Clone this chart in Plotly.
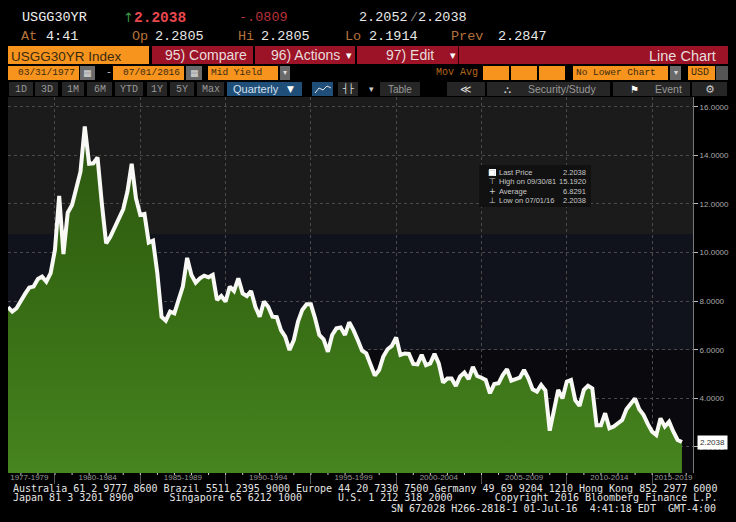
import pandas as pd
import plotly.graph_objects as go

yields = [7.75,7.57,7.71,8.05,8.30,8.56,8.60,8.91,9.01,8.80,9.15,10.11,12.33,9.94,11.64,11.96,12.69,13.33,15.19,13.65,
13.67,13.91,12.02,10.38,10.65,11.00,11.34,11.78,12.51,13.65,12.23,11.55,11.59,10.41,10.49,9.15,7.36,7.20,7.57,7.50,
8.05,8.60,9.78,9.08,8.76,8.94,9.05,8.98,9.08,8.05,8.21,7.98,8.60,8.42,8.94,8.32,8.21,8.42,7.77,7.36,
7.98,7.77,7.36,7.34,6.81,6.54,5.99,6.40,7.16,7.64,7.87,7.87,7.30,6.61,6.43,5.92,6.61,6.88,6.92,6.61,
7.13,6.81,6.40,5.96,5.85,5.44,4.94,5.17,5.72,6.02,6.16,6.51,5.79,5.85,5.83,5.42,5.40,5.79,5.37,5.44,
5.83,5.44,4.65,4.82,4.82,4.51,4.90,5.06,4.79,5.30,4.92,4.85,4.76,4.21,4.59,4.62,4.96,5.20,4.73,4.79,
4.85,5.17,4.83,4.37,4.28,4.55,4.32,2.67,3.52,4.35,4.00,4.69,4.76,3.93,3.69,4.35,4.52,4.41,2.89,2.89,
3.39,2.77,2.84,2.97,3.11,3.55,3.80,4.00,3.55,3.32,2.95,2.63,2.49,3.18,2.84,3.04,2.63,2.29,2.2038]
quarters = pd.date_range("1977-03-31", periods=len(yields), freq="QE")

y_ticks = [2, 4, 6, 8, 10, 12, 14, 16]
period_labels = ["1977-1979","1980-1984","1985-1989","1990-1994","1995-1999","2000-2004","2005-2009","2010-2014","2015-2019"]
period_mids = ["1978-07-01","1982-07-01","1987-07-01","1992-07-01","1997-07-01","2002-07-01","2007-07-01","2012-07-01","2016-04-01"]
period_starts = ["1980-01-01","1985-01-01","1990-01-01","1995-01-01","2000-01-01","2005-01-01","2010-01-01","2015-01-01"]
years = list(range(1978, 2018))

W, H = 736, 522
L, R, T, B = 8, 693, 97, 473
ORANGE, RED, GRAY, BTN = "#f7941e", "#9c1226", "#6a6a6a", "#262626"
MONO = "Liberation Mono"
SANS = "Liberation Sans"
shapes, notes = [], []

def rect(x0, y0, x1, y1, color, layer="above"):
    shapes.append(dict(type="rect", xref="paper", yref="paper", x0=x0/W, x1=x1/W, y0=1-y0/H, y1=1-y1/H,
                       fillcolor=color, line_width=0, layer=layer))

def txt(x, y, s, color="#e8e8e8", size=13, font=MONO, anchor="left"):
    notes.append(dict(xref="paper", yref="paper", x=x/W, y=1-y/H, text=s, showarrow=False, xanchor=anchor,
                      yanchor="middle", borderpad=0, font=dict(color=color, size=size, family=font)))

# plot-area background bands
rect(L, T, R, 234, "#1b1b1b", "below")
rect(L, 234, R, 350, "#10121c", "below")
rect(L, 350, R, B, "#0a0a0e", "below")

# header rows
txt(21, 18, "USGG30YR", "#f0f0f0", 13.5)
txt(122, 18, "↑", "#3f9a45", 13, "DejaVu Sans")
txt(133, 18, "<b>2.2038</b>", "#e8474f", 14.5)
txt(238, 18, "-.0809", "#b8323c", 13.5)
txt(358, 18, "2.2052", "#e8e8e8", 13.5)
txt(409, 18, "/", "#888888", 13.5)
txt(417, 18, "2.2038", "#e8e8e8", 13.5)
for x, s, c in [(20,"At","#b5723a"),(45,"4:41","#e8e8e8"),(131,"Op","#b5723a"),(154,"2.2805","#e8e8e8"),
                (237,"Hi","#b5723a"),(260,"2.2805","#e8e8e8"),(344,"Lo","#b5723a"),(368,"2.1914","#e8e8e8"),
                (450,"Prev","#b5723a"),(497,"2.2847","#e8e8e8")]:
    txt(x, 36, s, c, 13.5)

# toolbar row 1
rect(8, 46, 149, 64, ORANGE)
txt(10, 56, "USGG30YR Index", "#3a2a10", 13.5, SANS)
rect(152, 46, 253, 64, RED); rect(255, 46, 355, 64, RED); rect(357, 46, 728, 64, RED)
txt(164, 55, "95) Compare", "#e8dcdc", 14, SANS)
txt(270, 55, "96) Actions", "#e8dcdc", 14, SANS)
txt(385, 55, "97) Edit", "#e8dcdc", 14, SANS)
txt(349, 55, "▾", "#ffffff", 11, "DejaVu Sans", "center")
txt(453, 55, "▾", "#ffffff", 11, "DejaVu Sans", "center")
rect(458, 46, 459, 64, "#300008")
txt(717, 56, "Line Chart", "#e8dcdc", 14.5, SANS, "right")

# toolbar row 2
rect(8, 66, 79, 80, ORANGE); txt(17, 73, "03/31/1977", "#3a2a10", 9.5)
rect(80, 66, 95, 80, GRAY); txt(87.5, 73, "▦", "#dddddd", 9, "DejaVu Sans", "center")
txt(105, 73, "-", "#bbbbbb", 10)
rect(113, 66, 184, 80, ORANGE); txt(122, 73, "07/01/2016", "#3a2a10", 9.5)
rect(186, 66, 202, 80, GRAY); txt(194, 73, "▦", "#dddddd", 9, "DejaVu Sans", "center")
rect(208, 66, 278, 80, ORANGE); txt(210, 73, "Mid Yield", "#3a2a10", 9.5)
rect(280, 66, 290, 80, GRAY); txt(285, 73, "▾", "#dddddd", 8, "DejaVu Sans", "center")
txt(435, 73, "Mov Avg", "#b5661e", 10)
for a, b in [(483, 509), (511, 537), (539, 565)]:
    rect(a, 66, b, 80, ORANGE)
rect(573, 66, 668, 80, ORANGE); txt(575, 73, "No Lower Chart", "#3a2a10", 9.5)
rect(670, 66, 681, 80, GRAY); txt(675.5, 73, "▾", "#dddddd", 8, "DejaVu Sans", "center")
rect(688, 66, 715, 80, ORANGE); txt(690, 73, "USD", "#3a2a10", 10)
rect(716, 66, 728, 80, "#555555")

# toolbar row 3
for a, b, s in [(9,33,"1D"),(35,58,"3D"),(62,84,"1M"),(87,112,"6M"),(115,143,"YTD"),(147,167,"1Y"),(170,194,"5Y"),(197,224,"Max")]:
    rect(a, 82, b, 96, BTN); txt((a+b)/2, 89, s, "#999999", 10, MONO, "center")
rect(227, 82, 302, 96, "#1f4e79"); txt(232, 89, "Quarterly", "#d5e0ea", 11, SANS); txt(290, 89, "▼", "#ffffff", 9, "DejaVu Sans", "center")
rect(312, 82, 333, 96, "#1f4e79")
shapes.append(dict(type="path", xref="paper", yref="paper", line=dict(color="#e8e8e8", width=1), layer="above",
                   path="M %.4f %.4f L %.4f %.4f L %.4f %.4f L %.4f %.4f L %.4f %.4f" % (
                       315/W, 1-93/H, 319/W, 1-88/H, 323/W, 1-90/H, 327/W, 1-86/H, 331/W, 1-88/H)))
rect(338, 82, 358, 96, BTN); txt(348, 89, "┤├", "#e0e0e0", 9, "DejaVu Sans", "center")
txt(371, 89, "▾", "#cccccc", 9, "DejaVu Sans", "center")
rect(380, 82, 420, 96, BTN); txt(400, 89, "Table", "#999999", 10, SANS, "center")
rect(447, 82, 485, 96, BTN); txt(466, 89, "≪", "#dddddd", 11, "DejaVu Sans", "center")
rect(487, 82, 610, 96, BTN); txt(508, 89, "⛬", "#dddddd", 10, "DejaVu Sans", "center"); txt(527, 89, "Security/Study", "#999999", 10.5, SANS)
rect(613, 82, 690, 96, BTN); txt(634, 89, "⚑", "#ffffff", 10, "DejaVu Sans", "center"); txt(654, 89, "Event", "#999999", 10.5, SANS)
rect(692, 82, 727, 96, BTN); txt(710, 89, "⚙", "#cccccc", 11, "DejaVu Sans", "center")

# legend box
rect(479, 165, 591, 207, "#111111")
for y, mark, label, val in [(172,"□","Last Price","2.2038"),(181,"⊤","High on 09/30/81","15.1920"),
                            (191,"+","Average","6.8291"),(200,"⊥","Low on 07/01/16","2.2038")]:
    txt(492, y, mark, "#cccccc", 8, "DejaVu Sans", "center")
    txt(498, y, label, "#c8c8c8", 7.5, SANS)
    txt(587, y, val, "#c8c8c8", 7.5, SANS, "right")
rect(489, 169, 496, 176, "#ffffff")

# footer
FOOT = "DejaVu Sans Mono"
txt(12, 488, "Australia 61 2 9777 8600 Brazil 5511 2395 9000 Europe 44 20 7330 7500 Germany 49 69 9204 1210 Hong Kong 852 2977 6000", "#e4e4e4", 10, FOOT)
txt(12, 498, "Japan 81 3 3201 8900      Singapore 65 6212 1000      U.S. 1 212 318 2000       Copyright 2016 Bloomberg Finance L.P.", "#e4e4e4", 10, FOOT)
txt(390, 508, "SN 672028 H266-2818-1 01-Jul-16  4:41:18 EDT  GMT-4:00", "#e4e4e4", 10, FOOT)

# yearly tick marks on the x axis
for yr in years:
    shapes.append(dict(type="line", xref="x", yref="paper", x0=f"{yr}-01-01", x1=f"{yr}-01-01",
                       y0=1-B/H, y1=1-(B+2)/H, line=dict(color="#cccccc", width=1), layer="above"))

# last-price flag
notes.append(dict(xref="paper", yref="y", x=697/W, y=yields[-1], text="2.2038", showarrow=False, xanchor="left",
                  yanchor="middle", bgcolor="#ffffff", borderpad=2, font=dict(color="#333333", size=8, family=SANS)))

fig = go.Figure(go.Scatter(
    x=quarters, y=yields, mode="lines",
    line=dict(color="#f8f8f4", width=4),
    fill="tozeroy",
    fillgradient=dict(type="vertical", start=16, stop=1,
                      colorscale=[[0, "#2b5510"], [0.45, "#356812"], [0.7, "#3c7418"], [1, "#46851f"]]),
    hoverinfo="skip",
))
fig.update_layout(
    width=W, height=H, margin=dict(l=0, r=0, t=0, b=0), autosize=False,
    paper_bgcolor="#000000", plot_bgcolor="rgba(0,0,0,0)", showlegend=False,
    shapes=shapes, annotations=notes,
    xaxis=dict(domain=[L/W, R/W], range=["1977-03-31", "2017-05-25"], type="date",
               tickmode="array", tickvals=period_mids, ticktext=period_labels, ticks="", showgrid=False,
               ticklabelstandoff=-2,
               tickfont=dict(color="#999999", size=8, family=SANS), zeroline=False, showline=False,
               minor=dict(tickmode="array", tickvals=period_starts, showgrid=True, gridcolor="#4a4a4a", griddash="dot",
                          gridwidth=1, ticks="outside", ticklen=10, tickcolor="#555555")),
    yaxis=dict(domain=[1-B/H, 1-T/H], range=[0.93, 16.40], side="right", tickmode="array", tickvals=y_ticks,
               tickformat=".4f", ticks="outside", ticklen=4, tickcolor="#bbbbbb", showline=True, linecolor="#777777",
               gridcolor="#4a4a4a", griddash="dot", gridwidth=1, zeroline=False,
               tickfont=dict(color="#aaaaaa", size=8, family=SANS)),
)
fig.write_html("out.html", config=dict(displayModeBar=False),
               post_script="document.body.style.margin='0';document.documentElement.style.background='#000';document.body.style.background='#000';document.body.style.overflow='hidden';")
